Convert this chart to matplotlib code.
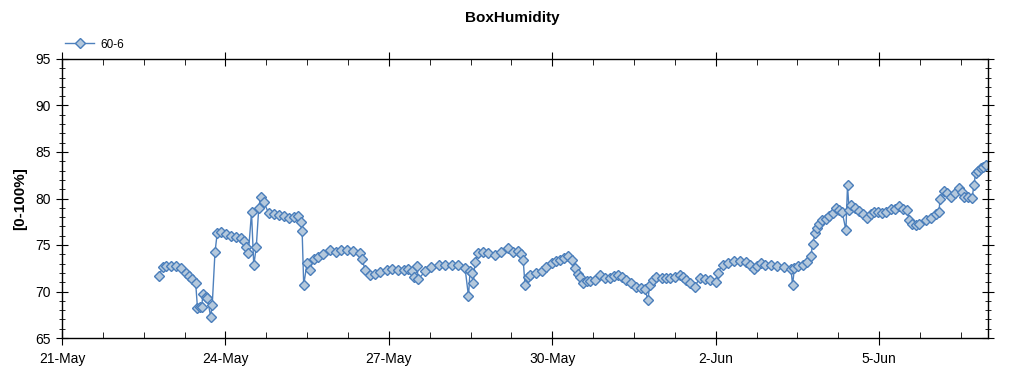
import datetime as dt
import matplotlib
matplotlib.use("Agg")
import matplotlib.pyplot as plt
import matplotlib.dates as mdates
from matplotlib.ticker import FixedLocator, MultipleLocator, FuncFormatter

plt.rcParams['font.family'] = ['Liberation Sans', 'DejaVu Sans']

title = "BoxHumidity"
ylabel = "[0-100%]"
series_name = "60-6"
start_date = dt.datetime(2013, 5, 21)
end_date = dt.datetime(2013, 6, 7)

# hours after 21-May 00:00
hours = [
    42.8, 44.3, 45.7, 47.9, 50.1, 52.3, 54.5, 55.8, 57.1, 58.9, 59.7, 60.7, 61.5, 62.1, 63.3,
    64.0, 65.5, 66.2, 67.4, 68.4, 69.9, 72.1, 74.3, 76.5, 78.7, 80.1, 80.9, 82.1, 83.5, 84.5,
    85.6, 86.7, 87.5, 88.9, 91.1, 93.2, 95.4, 97.6, 99.8, 102.0, 104.2, 105.1, 105.8, 106.5,
    108.0, 109.2, 110.9, 113.0, 115.2, 118.3, 120.9, 123.1, 125.6, 128.4, 131.4, 132.2, 133.6,
    135.8, 138.0, 140.2, 143.2, 145.5, 148.1, 150.5, 152.5, 154.2, 155.2, 156.4, 157.0, 160.0,
    162.7, 165.9, 168.8, 171.9, 174.6, 177.6, 179.1, 179.8, 180.5, 181.2, 182.0, 183.4, 185.5,
    187.8, 190.8, 193.4, 196.6, 198.7, 201.0, 202.2, 203.2, 204.0, 205.3, 206.2, 208.8, 211.3,
    213.2, 215.7, 217.6, 219.4, 221.1, 223.0, 224.5, 226.0, 227.3, 228.2, 229.6, 231.2, 232.5,
    234.7, 236.9, 239.1, 241.3, 243.1, 245.0, 246.6, 248.7, 250.6, 253.1, 255.0, 256.7, 258.2,
    258.9, 260.2, 261.9, 264.2, 266.0, 267.7, 269.9, 272.1, 273.4, 275.1, 276.5, 278.7, 280.9,
    283.1, 285.3, 288.2, 288.9, 291.1, 293.6, 296.3, 298.9, 301.4, 303.3, 305.1, 306.4, 308.0,
    309.9, 312.4, 315.2, 318.3, 321.2, 321.9, 322.7, 324.4, 326.3, 328.4, 330.0, 330.7, 331.9,
    332.8, 333.7, 335.0, 336.6, 338.0, 339.5, 341.0, 342.4, 343.7, 345.4, 346.1, 346.8, 347.6,
    349.4, 351.2, 353.0, 354.9, 356.5, 357.8, 359.6, 361.5, 363.1, 365.2, 367.1, 368.8, 370.6,
    372.5, 373.2, 374.5, 376.2, 377.6, 380.6, 382.9, 385.0, 386.4, 386.9, 388.6, 389.9, 391.5,
    393.4, 395.2, 396.5, 397.4, 399.1, 401.0, 401.8, 402.5, 403.5, 404.7, 405.7, 406.9,
]
humidity = [
    71.7, 72.6, 72.7, 72.7, 72.7, 72.5, 72.0, 71.7, 71.3, 70.9, 68.2, 68.3, 68.3, 69.7, 69.4,
    69.3, 67.3, 68.6, 74.2, 76.3, 76.4, 76.2, 76.0, 75.9, 75.7, 75.4, 74.8, 74.1, 78.5, 72.8,
    74.8, 79.0, 80.2, 79.6, 78.4, 78.3, 78.2, 78.1, 77.9, 78.0, 78.1, 77.5, 76.5, 70.7,
    73.1, 72.3, 73.5, 73.7, 74.0, 74.5, 74.3, 74.5, 74.5, 74.4, 74.1, 73.5, 72.3,
    71.8, 71.9, 72.1, 72.3, 72.4, 72.3, 72.3, 72.4, 72.2, 71.6, 72.7, 71.3, 72.2,
    72.6, 72.8, 72.8, 72.9, 72.8, 72.5, 69.5, 72.2, 72.0, 70.9, 73.2, 74.1, 74.3,
    74.1, 73.9, 74.2, 74.7, 74.3, 74.4, 74.0, 73.4, 70.7, 71.6, 71.8, 72.0, 72.2,
    72.6, 73.1, 73.3, 73.4, 73.6, 73.8, 73.4, 72.5, 71.9, 71.6, 70.9, 71.1, 71.1,
    71.2, 71.8, 71.4, 71.4, 71.7, 71.8, 71.6, 71.2, 70.9, 70.5, 70.4, 70.3, 69.1,
    70.7, 71.2, 71.6, 71.5, 71.4, 71.4, 71.6, 71.8, 71.6, 71.2, 70.9, 70.5, 71.4,
    71.3, 71.2, 71.0, 72.0, 72.9, 73.1, 73.3, 73.3, 73.2, 72.8, 72.4, 72.7, 73.1,
    72.9, 72.9, 72.7, 72.6, 72.4, 70.7, 72.5, 72.7, 72.9, 73.2, 73.8, 75.1, 76.3,
    76.8, 77.3, 77.7, 77.8, 78.1, 78.4, 79.0, 78.8, 78.6, 76.6, 81.4, 78.8, 79.3,
    79.0, 78.7, 78.3, 77.9, 78.3, 78.6, 78.6, 78.4, 78.6, 78.9, 78.9, 79.2, 78.9,
    78.8, 77.7, 77.3, 77.1, 77.3, 77.7, 77.9, 78.3, 78.6, 80.0, 80.8, 80.6, 80.2,
    80.6, 81.1, 80.7, 80.2, 80.2, 80.1, 81.4, 82.7, 83.0, 83.3, 83.4, 83.6,
]
y_ticks = [65, 70, 75, 80, 85, 90, 95]

times = [start_date + dt.timedelta(hours=h) for h in hours]

fig = plt.figure(figsize=(10.24, 3.75), dpi=100)
ax = fig.add_axes([62 / 1024, 1 - 338 / 375, (988 - 62) / 1024, (338 - 59) / 375])

line_color = "#4f81bd"
ax.plot(times, humidity, color=line_color, linewidth=1.0, marker="D",
        markersize=4.6, markerfacecolor="#b4c8dc", markeredgecolor="#4a7ebb",
        markeredgewidth=1.0, label=series_name)

ax.set_xlim(start_date, end_date)
ax.set_ylim(65, 95)
ax.set_yticks(y_ticks)
ax.yaxis.set_minor_locator(MultipleLocator(1))

n_days = (end_date - start_date).days
major = [mdates.date2num(start_date + dt.timedelta(days=d)) for d in range(0, n_days + 1, 3)]
minor = [mdates.date2num(start_date + dt.timedelta(hours=18 * k)) for k in range(0, int(n_days * 24 / 18) + 1)]
ax.xaxis.set_major_locator(FixedLocator(major))
ax.xaxis.set_minor_locator(FixedLocator(minor))
ax.xaxis.set_major_formatter(FuncFormatter(
    lambda v, p: f"{mdates.num2date(v).day}-{mdates.num2date(v).strftime('%b')}"))

for s in ax.spines.values():
    s.set_color("black")
    s.set_linewidth(1.0)

ax.tick_params(axis="both", which="both", top=True, right=True, labelsize=10, colors="black")
ax.tick_params(axis="y", which="major", direction="inout", length=8, pad=4)
ax.tick_params(axis="y", which="minor", direction="inout", length=5)
ax.tick_params(axis="x", which="major", direction="inout", length=10, pad=5)
ax.tick_params(axis="x", which="minor", direction="in", length=4)

ax.set_ylabel(ylabel, fontsize=11, fontweight="bold", labelpad=6)
fig.suptitle(title, fontsize=11, fontweight="bold", x=0.5, y=0.97)

ax.legend(loc="lower left", bbox_to_anchor=(-0.004, 1.005), frameon=False,
          fontsize=8.5, handlelength=2.4, handletextpad=0.6, borderaxespad=0.2)

fig.savefig("out.png", dpi=100)
